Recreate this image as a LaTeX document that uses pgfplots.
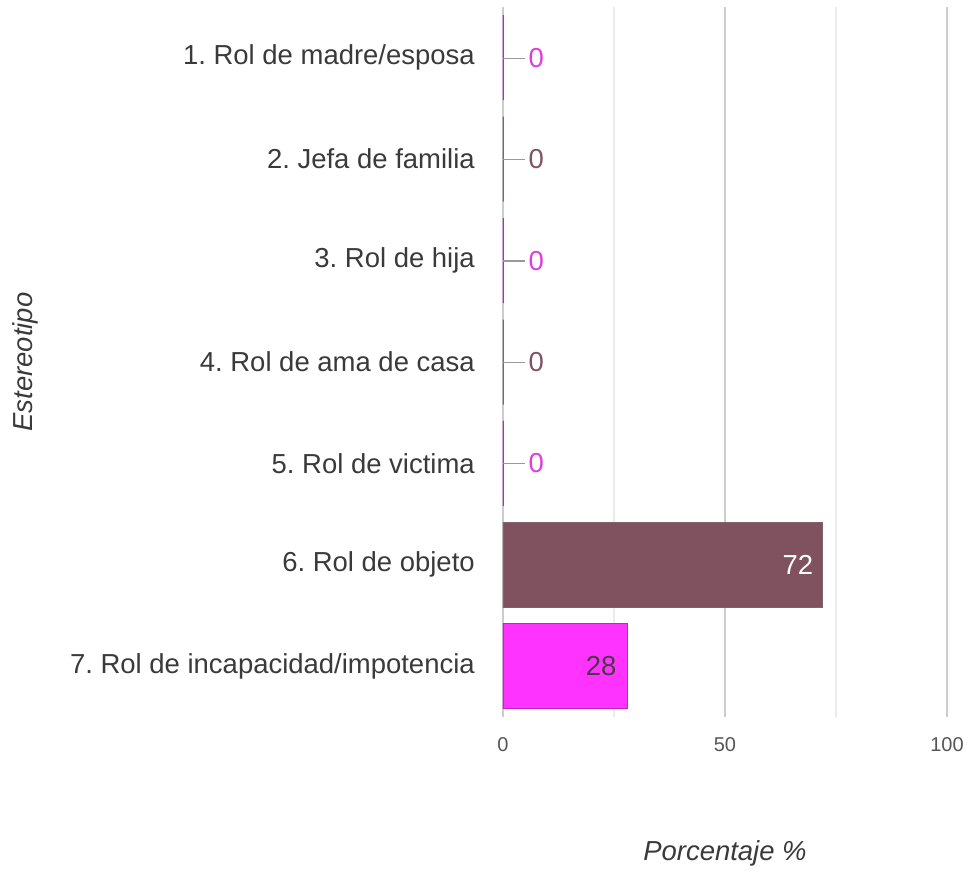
\documentclass[border=0pt]{standalone}
\usepackage{pgfplots}
\pgfplotsset{compat=1.18}
\usepackage{fontspec}
\setmainfont{Liberation Sans}
\definecolor{mag}{HTML}{FF33FF}
\definecolor{mar}{HTML}{80515F}
\definecolor{labmag}{HTML}{DD3FDD}
\definecolor{labmar}{HTML}{7F5565}
\definecolor{txt}{HTML}{3A3A3A}
\definecolor{ticktxt}{HTML}{555555}
\definecolor{in28}{HTML}{4A3A46}
\newcommand{\lab}{\fontsize{20.6pt}{24pt}\selectfont}
\frenchspacing
\begin{document}
\frenchspacing
\begin{tikzpicture}
\path[use as bounding box] (-377.25pt,-117.75pt) rectangle (350.25pt,537.75pt);
\begin{axis}[
  at={(0,0)}, anchor=south west,
  scale only axis, width=333pt, height=532.5pt,
  xbar, bar width=63.75pt,
  xmin=0, xmax=100, ymin=-0.5, ymax=6.5, y dir=reverse,
  /pgf/number format/assume math mode=true,
  ytick={0,1,2,3,4,5,6},
  yticklabels={1. Rol de madre/esposa, 2. Jefa de familia, 3. Rol de hija, 4. Rol de ama de casa, 5. Rol de victima, 6. Rol de objeto, 7. Rol de incapacidad/impotencia},
  yticklabel style={font=\lab, text=txt, anchor=east, inner sep=0pt, xshift=-21pt},
  xtick={0,50,100}, minor xtick={25,75},
  xticklabel style={font=\fontsize{15pt}{18pt}\selectfont, text=ticktxt, anchor=north, inner sep=0pt, yshift=-15pt},
  xmajorgrids, xminorgrids,
  major grid style={draw=black!20, line width=0.9pt},
  minor grid style={draw=black!8, line width=0.9pt},
  extra x ticks={0}, extra x tick labels={},
  extra x tick style={grid style={draw=black!75, line width=1.3pt}},
  axis line style={draw=none},
  major tick length=0pt, minor tick length=0pt,
  tick style={draw=none},
  xlabel={\itshape Porcentaje \%},
  xlabel style={font=\lab, text=txt, at={(axis description cs:0.5,-0.1915)}, anchor=center},
  ylabel={\itshape Estereotipo},
  ylabel style={font=\lab, text=txt, at={(axis description cs:-1.0766,0.5)}, anchor=center},
]
% magenta bars
\addplot[bar shift=0pt, fill=mag, draw=mag!75!black, line width=1pt] coordinates {(0,0) (0,2) (0,4) (28,6)};
% maroon bars
\addplot[bar shift=0pt, fill=mar, draw=mar!75!black!80, line width=1pt] coordinates {(0,1) (0,3) (72,5)};
% zero labels (magenta)
\addplot[bar shift=0pt, draw=none, fill=none, point meta=explicit symbolic,
  nodes near coords={{\color{black!40}\rule[0.31em]{16.5pt}{0.8pt}}\hspace{2.5pt}\pgfplotspointmeta},
  nodes near coords style={anchor=west, inner sep=0pt, font=\lab, text=labmag}]
  coordinates {(0,0)[0] (0,2)[0] (0,4)[0]};
% zero labels (maroon)
\addplot[bar shift=0pt, draw=none, fill=none, point meta=explicit symbolic,
  nodes near coords={{\color{black!40}\rule[0.31em]{16.5pt}{0.8pt}}\hspace{2.5pt}\pgfplotspointmeta},
  nodes near coords style={anchor=west, inner sep=0pt, font=\lab, text=labmar}]
  coordinates {(0,1)[0] (0,3)[0]};
% value labels inside bars
\addplot[bar shift=0pt, draw=none, fill=none, point meta=explicit symbolic,
  nodes near coords, nodes near coords style={anchor=east, inner sep=0pt, xshift=-7pt, font=\lab, text=white}]
  coordinates {(72,5)[72]};
\addplot[bar shift=0pt, draw=none, fill=none, point meta=explicit symbolic,
  nodes near coords, nodes near coords style={anchor=east, inner sep=0pt, xshift=-8pt, font=\lab, text=in28}]
  coordinates {(28,6)[28]};
\end{axis}
\end{tikzpicture}
\end{document}
